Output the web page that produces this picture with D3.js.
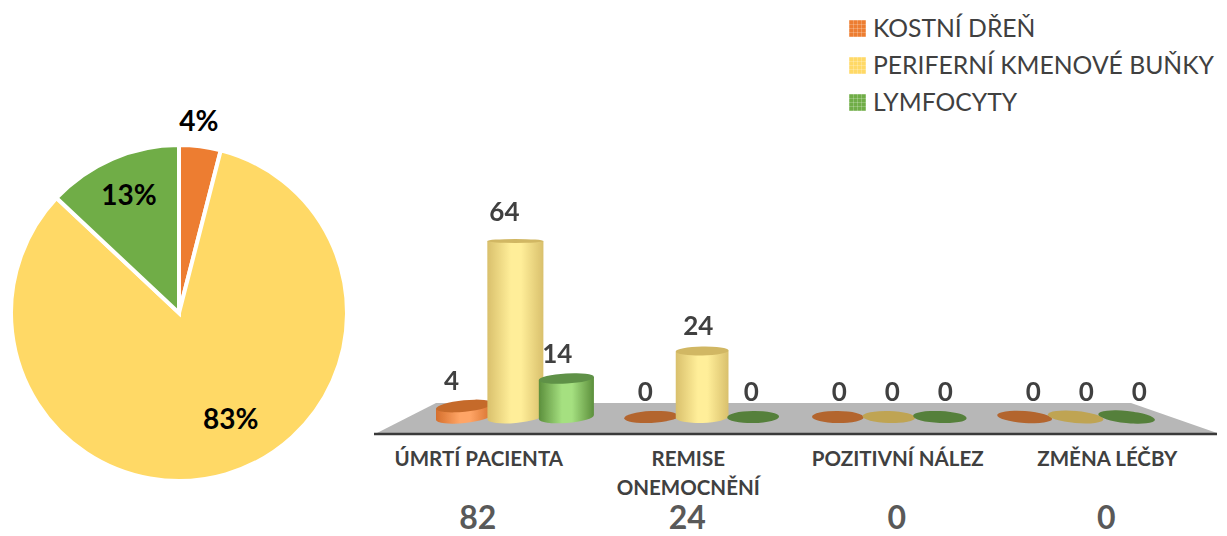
<!DOCTYPE html>
<html><head><meta charset="utf-8">
<script src="https://cdn.jsdelivr.net/npm/d3@7"></script>
<style>html,body{margin:0;padding:0;background:#fff}svg{display:block;font-family:Lato,"Open Sans",sans-serif}</style>
</head><body><svg id="c" width="1227" height="536"></svg>
<script>
const seriesNames = ["KOSTNÍ DŘEŇ","PERIFERNÍ KMENOVÉ BUŇKY","LYMFOCYTY"];
const categories = ["ÚMRTÍ PACIENTA","REMISE ONEMOCNĚNÍ","POZITIVNÍ NÁLEZ","ZMĚNA LÉČBY"];
const boneMarrow = [4,0,0,0];
const peripheral = [64,24,0,0];
const lymphocytes = [14,0,0,0];
const totals = [82,24,0,0];
const pieShares = [4,83,13];
const seriesColors = ["#ED7D31","#FFD966","#70AD47"];
const seriesLight = ["#FFA566","#FFEE99","#A5E080"];
const seriesEdge = ["#D56F2C","#D9C06C","#5C8F3C"];
const seriesTop = ["#C56A2C","#D1B763","#5E9147"];
const zeroFill = ["#B3652F","#BFA452","#55803A"];

const svg = d3.select("#c");
const defs = svg.append("defs");
seriesColors.forEach((c,i)=>{
  const g = defs.append("linearGradient").attr("id","cyl"+i);
  [[0,seriesEdge[i]],[.42,seriesLight[i]],[.6,seriesLight[i]],[1,seriesEdge[i]]]
    .forEach(([o,k])=>g.append("stop").attr("offset",o).attr("stop-color",k));
  const p = defs.append("pattern").attr("id","pat"+i).attr("width",4).attr("height",4).attr("patternUnits","userSpaceOnUse");
  p.append("rect").attr("width",4).attr("height",4).attr("fill",c);
  p.append("path").attr("d","M0 .5H4M.5 0V4").attr("stroke","#fff").attr("stroke-opacity",.22);
});
defs.append("filter").attr("id","soft").append("feGaussianBlur").attr("stdDeviation",.4);

/* ---------- pie ---------- */
const pieG = svg.append("g").attr("transform","translate(179,313)");
const arcs = d3.pie().sort(null)(pieShares);
const arc = d3.arc().innerRadius(0).outerRadius(168);
pieG.selectAll("path").data(arcs).join("path")
  .attr("d",arc).attr("fill",(d,i)=>seriesColors[i])
  .attr("stroke","#fff").attr("stroke-width",4).attr("stroke-linejoin","miter");
// label anchor: polar position around the pie (degrees, radius)
const pieLabelPolar = [[5.9,193],[154,118],[-23,128]];
pieG.selectAll("text").data(arcs).join("text")
  .attr("x",(d,i)=>Math.sin(pieLabelPolar[i][0]*Math.PI/180)*pieLabelPolar[i][1])
  .attr("y",(d,i)=>-Math.cos(pieLabelPolar[i][0]*Math.PI/180)*pieLabelPolar[i][1])
  .attr("dy","0.35em").attr("text-anchor","middle")
  .attr("font-size",28).attr("font-weight",700).attr("fill","#000")
  .text(d=>d.data+"%");

/* ---------- 3D-ish floor ---------- */
svg.append("path").attr("d",d3.line()([[377,433],[436,403],[1131,403],[1217,433]])+"Z").attr("fill","#B7B7B7");

/* ---------- scales ---------- */
const xGroup = d3.scaleBand().domain(categories).range([422,1169]);
const xSeries = d3.scaleBand().domain(d3.range(3)).range([-76.5,76.5]);
const yHeight = d3.scaleLinear().domain([0,64]).range([0,176]);
const baseY = 417, vanishX = 800;
const rows = [boneMarrow,peripheral,lymphocytes];
const marks = [];
categories.forEach((c,ci)=>rows.forEach((r,si)=>{
  const x = xGroup(c)+xGroup.bandwidth()/2 + xSeries(si)+xSeries.bandwidth()/2;
  marks.push({x,v:r[ci],si});
}));
const radiusX = x=>25.5+Math.abs(x-vanishX)*0.009;
const tilt = x=>(x-vanishX)*0.018;
const ry = 6;
const rad = a=>a*Math.PI/180;

const cyl = svg.append("g").attr("filter","url(#soft)").selectAll("g").data(marks).join("g")
  .attr("transform",d=>`translate(${d.x},${baseY})`);
cyl.each(function(d){
  const g = d3.select(this), rx = radiusX(d.x), h = yHeight(d.v), i = d.si, t = tilt(d.x);
  if(d.v===0){
    g.append("ellipse").attr("rx",rx).attr("ry",ry).attr("fill",zeroFill[i]).attr("transform",`rotate(${t})`);
    return;
  }
  // the rim flattens and levels out as it approaches eye height
  const k = 1-h/176, topT = t*k, topRy = 2+(ry-2)*k;
  const bx = rx*Math.cos(rad(t)), by = rx*Math.sin(rad(t));
  const tx = rx*Math.cos(rad(topT)), ty = rx*Math.sin(rad(topT));
  g.append("path")
    .attr("d",`M${-tx},${-h-ty}L${-bx},${-by}A${rx},${ry} ${t} 0 0 ${bx},${by}L${tx},${-h+ty}Z`)
    .attr("fill",`url(#cyl${i})`);
  g.append("ellipse").attr("cy",-h).attr("rx",rx).attr("ry",topRy).attr("fill",seriesTop[i])
    .attr("transform",`translate(0,${-h}) rotate(${topT}) translate(0,${h})`);
});
svg.append("g").selectAll("text").data(marks).join("text")
  .attr("x",d=>d.x+(d.x-vanishX)*0.0385)
  .attr("y",d=>baseY-yHeight(d.v)-(d.v>30?20:16))
  .attr("text-anchor","middle").attr("font-size",26).attr("font-weight",700).attr("fill","#404040")
  .text(d=>d.v);

/* ---------- category axis ---------- */
const xAxis = d3.scaleBand().domain(categories).range([374,1212]);
const axisG = svg.append("g").attr("transform","translate(0,434)").call(d3.axisBottom(xAxis).tickSize(0).tickPadding(0));
axisG.select(".domain").attr("d","M374,0H1217").attr("stroke","#3a3a3a").attr("stroke-width",2.4);
axisG.selectAll(".tick text").each(function(t){
  const s = d3.select(this).text(null).attr("y",32).attr("dy",null)
    .attr("font-family","Lato").attr("font-size",20.5).attr("font-weight",700).attr("fill","#404040");
  const lines = t==="REMISE ONEMOCNĚNÍ" ? t.split(" ") : [t];
  lines.forEach((l,i)=>s.append("tspan").attr("x",0).attr("dy",i?29:0).text(l));
});
svg.append("g").selectAll("text").data(categories).join("text")
  .attr("x",c=>xAxis(c)+xAxis.bandwidth()/2-1).attr("y",529)
  .attr("text-anchor","middle").attr("font-size",32).attr("font-weight",700).attr("fill","#595959")
  .text((c,i)=>totals[i]);

/* ---------- legend ---------- */
const leg = svg.append("g").selectAll("g").data(seriesNames).join("g")
  .attr("transform",(d,i)=>`translate(849,${20+i*37})`);
leg.append("rect").attr("width",17).attr("height",17).attr("fill",(d,i)=>`url(#pat${i})`);
leg.append("text").attr("x",24).attr("y",17).attr("font-size",24.7).attr("fill","#404040").text(d=>d);
</script></body></html>
